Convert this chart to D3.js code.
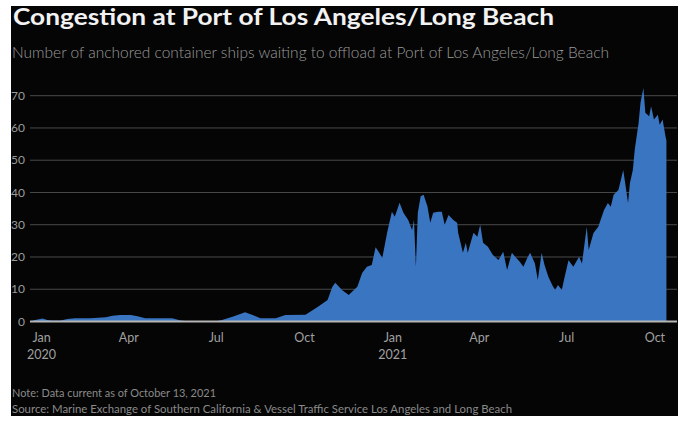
<!DOCTYPE html>
<html>
<head>
<meta charset="utf-8">
<script src="https://cdn.jsdelivr.net/npm/d3@7"></script>
<style>
  body { margin: 0; background: #fff; }
  svg { display: block; font-family: Lato, "Open Sans", sans-serif; }
</style>
</head>
<body>
<svg id="chart" width="686" height="421"></svg>
<script>
// Anchored ships waiting
const dates = [
  "2019-12-23","2020-01-02","2020-01-07","2020-01-12","2020-01-21","2020-01-28","2020-02-05","2020-02-21",
  "2020-03-08","2020-03-15","2020-03-23","2020-04-03","2020-04-10","2020-04-18","2020-05-04","2020-05-16",
  "2020-05-25","2020-06-04","2020-06-30","2020-07-07","2020-07-18","2020-07-31","2020-08-08","2020-08-16",
  "2020-09-01","2020-09-11","2020-10-02","2020-10-15","2020-10-25","2020-10-30","2020-11-02","2020-11-09",
  "2020-11-16","2020-11-25","2020-11-30","2020-12-05","2020-12-10","2020-12-14","2020-12-17","2020-12-21",
  "2020-12-26","2020-12-31","2021-01-03","2021-01-08","2021-01-12","2021-01-17","2021-01-21","2021-01-23",
  "2021-01-25","2021-01-27","2021-01-30","2021-02-02","2021-02-06","2021-02-09","2021-02-12","2021-02-17",
  "2021-02-21","2021-02-24","2021-02-28","2021-03-05","2021-03-09","2021-03-10","2021-03-15","2021-03-18",
  "2021-03-20","2021-03-26","2021-03-30","2021-04-02","2021-04-05","2021-04-10","2021-04-15","2021-04-21",
  "2021-04-26","2021-04-30","2021-05-05","2021-05-08","2021-05-13","2021-05-17","2021-05-21","2021-05-24",
  "2021-05-29","2021-06-01","2021-06-05","2021-06-08","2021-06-12","2021-06-16","2021-06-19","2021-06-22",
  "2021-06-26","2021-06-29","2021-07-03","2021-07-08","2021-07-14","2021-07-17","2021-07-22","2021-07-24",
  "2021-07-29","2021-08-03","2021-08-09","2021-08-13","2021-08-16","2021-08-19","2021-08-24","2021-08-29",
  "2021-08-31","2021-09-03","2021-09-05","2021-09-08","2021-09-10","2021-09-14","2021-09-16","2021-09-19",
  "2021-09-21","2021-09-25","2021-09-27","2021-09-30","2021-10-04","2021-10-06","2021-10-09","2021-10-12",
  "2021-10-13"
];
const ships = [
  0.3, 0.9, 0.5, 0.3, 0.3, 0.8, 1.0, 1.0,
  1.3, 1.8, 2.0, 2.0, 1.6, 1.0, 1.0, 1.0,
  0.3, 0, 0, 0.5, 1.5, 2.9, 2.0, 1.0,
  1.0, 2.0, 2.1, 4.6, 6.7, 10.8, 12, 9.8,
  8.2, 10.8, 15, 17, 17.5, 23, 21.7, 19.7,
  27.5, 34, 32.5, 36.8, 33.7, 31.5, 28.4, 31.5,
  17, 33.7, 38.8, 39.3, 35.7, 30.6, 33.7, 34,
  34, 30, 33, 31.5, 30.6, 27.5, 21.3, 24.4,
  21.3, 27.5, 26.3, 30, 24.4, 23.2, 20.7, 19.1,
  21.6, 16, 21.3, 20.2, 18.6, 17, 19.7, 21.3,
  18, 12.9, 21.3, 17.5, 13.9, 11.3, 9.8, 11.3,
  9.8, 13.9, 19, 17, 20.1, 18, 29.4, 22.2,
  27.4, 29.4, 34.6, 36.7, 35.6, 39.3, 40.8, 47,
  42.9, 36.7, 42.9, 47, 53.3, 61.5, 67.8, 72.4,
  64.7, 63.6, 66.7, 62.6, 64.1, 61, 62.6, 57.4,
  56
];
const yTicks = [0, 10, 20, 30, 40, 50, 60, 70];
const xTickDates = ["2020-01-01","2020-04-01","2020-07-01","2020-10-01","2021-01-01","2021-04-01","2021-07-01","2021-10-01"];
const xTickLabels = ["Jan","Apr","Jul","Oct","Jan","Apr","Jul","Oct"];
const yearLabels = {"2020-01-01": "2020", "2021-01-01": "2021"};

const parse = d3.timeParse("%Y-%m-%d");
const data = dates.map((d, i) => ({ date: parse(d), value: ships[i] }));

const svg = d3.select("#chart");

// black card
svg.append("rect")
  .attr("x", 11).attr("y", 6)
  .attr("width", 667).attr("height", 410)
  .attr("fill", "#050505");

const x = d3.scaleTime()
  .domain([parse("2019-12-20"), parse("2021-10-24")])
  .range([30, 677]);
const y = d3.scaleLinear()
  .domain([0, 70])
  .range([321.5, 95.7]);

// gridlines
svg.append("g")
  .selectAll("line")
  .data(yTicks.filter(t => t > 0))
  .enter().append("line")
  .attr("x1", 30).attr("x2", 677)
  .attr("y1", d => y(d)).attr("y2", d => y(d))
  .attr("stroke", "#4a4a4a")
  .attr("stroke-width", 1);

// area
const area = d3.area()
  .x(d => x(d.date))
  .y0(y(0))
  .y1(d => y(d.value));

svg.append("path")
  .datum(data)
  .attr("d", area)
  .attr("fill", "#3a75c1");

// zero line
svg.append("line")
  .attr("x1", 30).attr("x2", 677)
  .attr("y1", y(0)).attr("y2", y(0))
  .attr("stroke", "#b5b5b5")
  .attr("stroke-width", 2);

// y labels
svg.append("g")
  .selectAll("text")
  .data(yTicks)
  .enter().append("text")
  .attr("x", 25)
  .attr("y", d => y(d))
  .attr("dy", "0.35em")
  .attr("text-anchor", "end")
  .attr("fill", "#9a9a9a")
  .style("font-size", "12px")
  .text(d => d);

// x labels
const xg = svg.append("g");
xTickDates.forEach((d, i) => {
  const px = x(parse(d));
  xg.append("text")
    .attr("x", px).attr("y", 342)
    .attr("text-anchor", "middle")
    .attr("fill", "#a0a0a0")
    .style("font-size", "12.5px")
    .text(xTickLabels[i]);
  if (yearLabels[d]) {
    xg.append("text")
      .attr("x", px).attr("y", 359)
      .attr("text-anchor", "middle")
      .attr("fill", "#a0a0a0")
      .style("font-size", "12.5px")
      .text(yearLabels[d]);
  }
});

// title block
svg.append("text")
  .attr("x", 13).attr("y", 25)
  .attr("fill", "#f2f2f2")
  .style("font-size", "23px")
  .style("font-weight", "700")
  .attr("textLength", 541)
  .attr("lengthAdjust", "spacingAndGlyphs")
  .text("Congestion at Port of Los Angeles/Long Beach");

svg.append("text")
  .attr("x", 12).attr("y", 58)
  .attr("fill", "#9a9a9a")
  .style("font-size", "15px")
  .style("font-weight", "300")
  .attr("textLength", 597)
  .attr("lengthAdjust", "spacingAndGlyphs")
  .text("Number of anchored container ships waiting to offload at Port of Los Angeles/Long Beach");

// footnotes
svg.append("text")
  .attr("x", 12).attr("y", 397)
  .attr("fill", "#8a8a8a")
  .style("font-size", "11px")
  .attr("textLength", 204)
  .attr("lengthAdjust", "spacingAndGlyphs")
  .text("Note: Data current as of October 13, 2021");

svg.append("text")
  .attr("x", 12).attr("y", 413)
  .attr("fill", "#8a8a8a")
  .style("font-size", "11px")
  .attr("textLength", 500)
  .attr("lengthAdjust", "spacingAndGlyphs")
  .text("Source: Marine Exchange of Southern California & Vessel Traffic Service Los Angeles and Long Beach");
</script>
</body>
</html>
